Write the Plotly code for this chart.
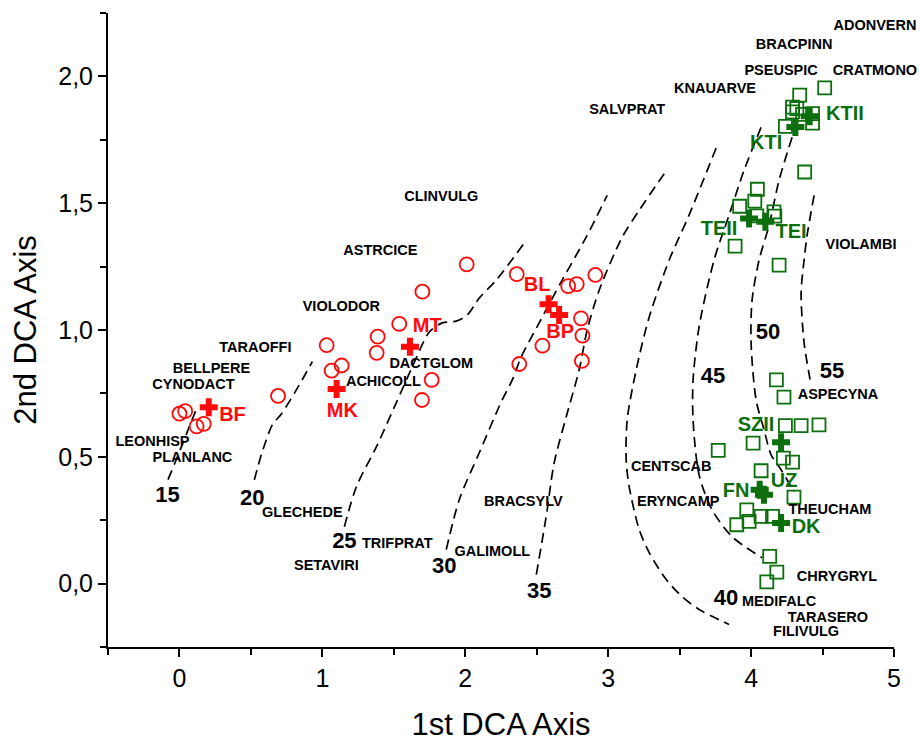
import plotly.graph_objects as go

# ---------------- data ----------------
# sites (relevés) of the first group (red circles)
red_x = [0.00, 0.04, 0.12, 0.17, 0.69, 1.03, 1.065, 1.135, 1.387, 1.38, 1.538, 1.70,
         2.01, 1.765, 1.697, 2.36, 2.378, 2.54, 2.72, 2.78, 2.91, 2.81, 2.82, 2.816]
red_y = [0.67, 0.68, 0.62, 0.63, 0.74, 0.94, 0.84, 0.86, 0.974, 0.91, 1.024, 1.151,
         1.259, 0.803, 0.724, 1.22, 0.866, 0.938, 1.173, 1.181, 1.217, 1.046, 0.978, 0.878]

# sites of the second group (green squares)
green_x = [4.515, 4.34, 4.29, 4.32, 4.43, 4.24, 4.43, 4.375, 4.29, 4.36,
           4.044, 4.026, 3.92, 4.16, 4.166, 3.888, 4.196, 4.04,
           4.177, 4.23, 4.24, 4.35, 4.475, 4.014, 3.77, 4.226, 4.29, 4.07, 4.30,
           3.97, 4.07, 4.15, 3.986, 3.90, 4.13, 4.18, 4.11]
green_y = [1.955, 1.926, 1.879, 1.873, 1.853, 1.803, 1.816, 1.623, 1.86, 1.85,
           1.555, 1.508, 1.488, 1.466, 1.449, 1.331, 1.256, 1.45,
           0.803, 0.735, 0.623, 0.623, 0.626, 0.554, 0.525, 0.495, 0.479, 0.445, 0.341,
           0.291, 0.265, 0.265, 0.245, 0.232, 0.107, 0.045, 0.007]

# group centroids (crosses) and their labels
red_groups = ["BF", "MK", "MT", "BL", "BP"]
red_cx = [0.205, 1.10, 1.613, 2.583, 2.657]
red_cy = [0.695, 0.767, 0.934, 1.102, 1.059]
red_lx = [0.371, 1.140, 1.734, 2.503, 2.664]
red_ly = [0.661, 0.677, 1.012, 1.173, 0.988]

green_groups = ["KTII", "KTI", "TEII", "TEI", "SZII", "FN", "UZ", "DK"]
green_cx = [4.41, 4.31, 3.986, 4.10, 4.21, 4.06, 4.09, 4.21]
green_cy = [1.843, 1.80, 1.44, 1.427, 0.557, 0.37, 0.35, 0.239]
green_lx = [4.657, 4.105, 3.776, 4.280, 4.035, 3.895, 4.231, 4.385]
green_ly = [1.846, 1.732, 1.394, 1.382, 0.622, 0.362, 0.402, 0.220]

# species scores
species = ["ADONVERN", "BRACPINN", "PSEUSPIC", "CRATMONO", "KNAUARVE", "SALVPRAT",
           "VIOLAMBI", "CLINVULG", "ASTRCICE", "VIOLODOR", "TARAOFFI", "BELLPERE",
           "CYNODACT", "LEONHISP", "PLANLANC", "GLECHEDE", "TRIFPRAT", "SETAVIRI",
           "DACTGLOM", "ACHICOLL", "BRACSYLV", "GALIMOLL", "CENTSCAB", "ERYNCAMP",
           "ASPECYNA", "THEUCHAM", "CHRYGRYL", "MEDIFALC", "TARASERO", "FILIVULG"]
sp_x = [4.867, 4.301, 4.210, 4.867, 3.748, 3.133, 4.769, 1.832, 1.406, 1.133, 0.531, 0.224,
        0.098, -0.189, 0.091, 0.860, 1.524, 1.028, 1.762, 1.427, 2.406, 2.189, 3.441, 3.490,
        4.608, 4.552, 4.601, 4.196, 4.538, 4.385]
sp_y = [2.197, 2.122, 2.020, 2.020, 1.949, 1.866, 1.335, 1.524, 1.311, 1.091, 0.929, 0.846,
        0.783, 0.555, 0.492, 0.276, 0.154, 0.067, 0.866, 0.795, 0.319, 0.122, 0.457, 0.319,
        0.744, 0.287, 0.024, -0.075, -0.138, -0.193]

# isolines (fitted surface) and their labels
c15_x = [-0.08, 0.00, 0.07, 0.12]
c15_y = [0.41, 0.52, 0.62, 0.69]
c20_x = [0.524, 0.573, 0.65, 0.713, 0.818, 0.93]
c20_y = [0.409, 0.508, 0.626, 0.669, 0.764, 0.875]
c25_x = [1.154, 1.238, 1.378, 1.517, 1.629, 1.748, 1.839, 1.937, 2.014, 2.098, 2.217, 2.413]
c25_y = [0.224, 0.382, 0.539, 0.713, 0.854, 0.992, 1.028, 1.035, 1.059, 1.126, 1.197, 1.343]
c30_x = [1.867, 1.958, 2.098, 2.252, 2.329, 2.392, 2.517, 2.678, 2.846, 2.993]
c30_y = [0.134, 0.331, 0.516, 0.717, 0.803, 0.894, 1.028, 1.197, 1.366, 1.531]
c35_x = [2.497, 2.566, 2.622, 2.706, 2.797, 2.853, 2.937, 3.098, 3.217, 3.399]
c35_y = [0.035, 0.264, 0.476, 0.657, 0.843, 1.000, 1.157, 1.366, 1.472, 1.622]
c40_x = [3.755, 3.566, 3.427, 3.287, 3.196, 3.133, 3.126, 3.147, 3.217, 3.287, 3.406, 3.517, 3.636, 3.846]
c40_y = [1.717, 1.453, 1.276, 1.051, 0.843, 0.646, 0.488, 0.382, 0.213, 0.122, 0.016, -0.051, -0.102, -0.161]
c45_x = [4.070, 3.951, 3.846, 3.741, 3.636, 3.594, 3.594, 3.636, 3.727, 3.867, 4.077]
c45_y = [1.799, 1.630, 1.453, 1.276, 1.012, 0.803, 0.646, 0.429, 0.291, 0.185, 0.102]
c50_x = [4.287, 4.196, 4.126, 4.056, 4.007, 4.000, 4.035, 4.091, 4.140, 4.210, 4.301]
c50_y = [1.760, 1.591, 1.413, 1.276, 1.118, 0.949, 0.724, 0.606, 0.508, 0.449, 0.362]
c55_x = [4.441, 4.392, 4.371, 4.350, 4.371, 4.420]
c55_y = [1.531, 1.374, 1.276, 1.146, 0.949, 0.783]

iso_labels = ["15", "20", "25", "30", "35", "40", "45", "50", "55"]
iso_lx = [-0.084, 0.510, 1.154, 1.853, 2.517, 3.825, 3.734, 4.119, 4.566]
iso_ly = [0.343, 0.331, 0.161, 0.063, -0.035, -0.063, 0.811, 0.988, 0.831]

x_ticks = [0, 1, 2, 3, 4, 5]
y_ticks = [0.0, 0.5, 1.0, 1.5, 2.0]

# ---------------- styles ----------------
RED = "#ff0a0a"
GREEN = "#0c6e0c"
SANS = "Liberation Sans, Arial, sans-serif"

fig = go.Figure()

contours = [(c15_x, c15_y), (c20_x, c20_y), (c25_x, c25_y), (c30_x, c30_y), (c35_x, c35_y),
            (c40_x, c40_y), (c45_x, c45_y), (c50_x, c50_y), (c55_x, c55_y)]
for cx, cy in contours:
    fig.add_trace(go.Scatter(x=cx, y=cy, mode="lines",
                             line=dict(color="black", width=1.7, dash="10px,6px", shape="spline",
                                       smoothing=0.8),
                             hoverinfo="skip", showlegend=False))

fig.add_trace(go.Scatter(x=red_x, y=red_y, mode="markers",
                         marker=dict(symbol="circle-open", size=14, color=RED,
                                     line=dict(width=1.8, color=RED)),
                         showlegend=False))
fig.add_trace(go.Scatter(x=green_x, y=green_y, mode="markers",
                         marker=dict(symbol="square-open", size=13, color=GREEN,
                                     line=dict(width=1.8, color=GREEN)),
                         showlegend=False))
fig.add_trace(go.Scatter(x=red_cx, y=red_cy, mode="markers",
                         marker=dict(symbol="cross", size=15, color=RED, line=dict(width=0)),
                         showlegend=False))
fig.add_trace(go.Scatter(x=green_cx, y=green_cy, mode="markers",
                         marker=dict(symbol="cross", size=15, color=GREEN, line=dict(width=0)),
                         showlegend=False))

fig.add_trace(go.Scatter(x=sp_x, y=sp_y, mode="text", text=species, cliponaxis=False,
                         textfont=dict(family=SANS, size=14.5, color="black", weight="bold"),
                         textposition="middle center", showlegend=False))
fig.add_trace(go.Scatter(x=iso_lx, y=iso_ly, mode="text", text=iso_labels, cliponaxis=False,
                         textfont=dict(family=SANS, size=22, color="black", weight="bold"),
                         textposition="middle center", showlegend=False))
fig.add_trace(go.Scatter(x=red_lx, y=red_ly, mode="text", text=red_groups, cliponaxis=False,
                         textfont=dict(family=SANS, size=20, color=RED, weight="bold"),
                         textposition="middle center", showlegend=False))
fig.add_trace(go.Scatter(x=green_lx, y=green_ly, mode="text", text=green_groups, cliponaxis=False,
                         textfont=dict(family=SANS, size=20, color=GREEN, weight="bold"),
                         textposition="middle center", showlegend=False))

axis_common = dict(showgrid=False, zeroline=False, showline=True, linecolor="black",
                   linewidth=2, ticks="outside", ticklen=8, tickwidth=1.5, tickcolor="black",
                   tickfont=dict(family=SANS, size=25, color="black"), automargin=False)

fig.update_xaxes(range=[-0.5, 5.0], tickvals=x_ticks, **axis_common,
                 minor=dict(ticks="outside", dtick=0.5, tick0=0, ticklen=6, tickwidth=1.5,
                            tickcolor="black"),
                 title=dict(text="1st DCA Axis", font=dict(family=SANS, size=31, color="black"),
                            standoff=22))
fig.update_yaxes(range=[-0.25, 2.25], tickvals=y_ticks, tickformat=".1f", **axis_common,
                 minor=dict(ticks="outside", dtick=0.25, tick0=0, ticklen=6, tickwidth=1.5,
                            tickcolor="black"),
                 title=dict(text="2nd DCA Axis", font=dict(family=SANS, size=31, color="black"),
                            standoff=12))

fig.update_layout(width=920, height=744, margin=dict(l=108, r=26, t=13, b=97),
                  paper_bgcolor="white", plot_bgcolor="white", separators=",.",
                  showlegend=False)

fig.write_html("out.html")
